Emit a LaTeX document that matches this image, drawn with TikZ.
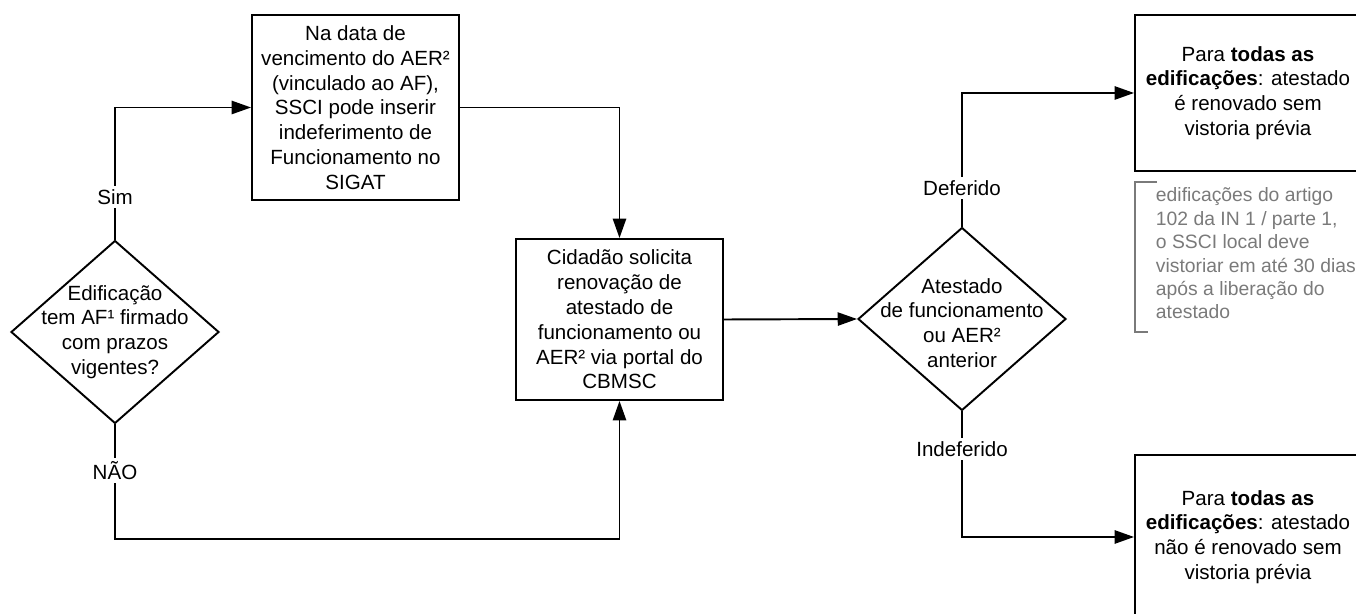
\documentclass[tikz,border=0pt]{standalone}
\usepackage{fontspec}
\setmainfont{Liberation Sans}
\usetikzlibrary{shapes.geometric,arrows.meta}
\definecolor{notegray}{HTML}{7A7A7A}

\begin{document}
\begin{tikzpicture}[x=0.02cm,y=-0.02cm,
	font=\fontsize{11.7}{14.1}\selectfont,
	>={Triangle[length=11pt,width=7.5pt]}, line width=1.1pt,
	box/.style={draw,rectangle,align=center,inner sep=0pt},
	decision/.style={draw,diamond,minimum width=4.16cm,minimum height=3.66cm,inner sep=0pt},
	answer/.style={fill=white,inner sep=2pt}]
	\clip (0,0) rectangle (1356,614);

	\node[decision] (A) at (115,332) {};
	\node[align=center] (At) at (A) {Edificação\\tem AF¹ firmado\\com prazos\\vigentes?};
	\node[box,minimum width=4.14cm,minimum height=3.7cm] (B) at (355.5,107.5) {Na data de\\vencimento do AER²\\(vinculado ao AF),\\SSCI pode inserir\\indeferimento de\\Funcionamento no\\SIGAT};
	\node[box,minimum width=4.14cm,minimum height=3.22cm] (C) at (619.5,319.5) {Cidadão solicita\\renovação de\\atestado de\\funcionamento ou\\AER² via portal do\\CBMSC};
	\node[decision] (D) at (962,319) {};
	\node[align=center] (Dt) at (962,323) {Atestado\\de funcionamento\\ou AER²\\anterior};
	\node[box,minimum width=4.52cm,minimum height=3.12cm] (E) at (1248,93) {Para \textbf{todas as}\\\textbf{edificações}: atestado\\é renovado sem\\vistoria prévia};
	\node[box,minimum width=4.52cm,minimum height=3.28cm] (F) at (1248,537) {Para \textbf{todas as}\\\textbf{edificações}: atestado\\não é renovado sem\\vistoria prévia};
	\node[anchor=north west,align=left,inner sep=0pt,text=notegray,
		font=\fontsize{11}{13.3}\selectfont] (N) at (1155,187) {edificações do artigo\\102 da IN 1 / parte 1,\\o SSCI local deve\\vistoriar em até 30 dias\\após a liberação do\\atestado};
	\draw[notegray,line width=1pt] (1157,182) -- (1135,182) -- (1135,332) -- (1148,332);

	\draw[->] (A.north) |- node[answer,pos=0.16]{Sim} (B.west);
	\draw[->] (A.south) -- node[answer,pos=0.4]{NÃO} ++(0,115) -| (C.south);
	\draw[->] (B.east) -| (C.north);
	\draw[->] (C.east) -- (D.west);
	\draw[->] (D.north) |- node[answer,pos=0.145]{Deferido} (E.west);
	\draw[->] (D.south) |- node[answer,pos=0.15]{Indeferido} (F.west);
\end{tikzpicture}
\end{document}
